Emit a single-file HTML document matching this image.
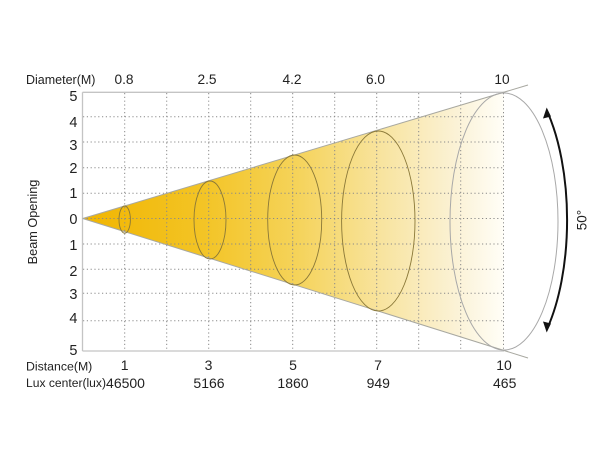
<!DOCTYPE html>
<html><head><meta charset="utf-8"><style>
html,body{margin:0;padding:0;background:#fff;}
svg{display:block;}
text{font-family:"Liberation Sans",Arial,sans-serif;fill:#222;}
</style></head><body>
<svg width="600" height="450" viewBox="0 0 600 450" xmlns="http://www.w3.org/2000/svg">
<defs>
<linearGradient id="g" gradientUnits="userSpaceOnUse" x1="82" y1="0" x2="512" y2="0">
<stop offset="0" stop-color="#F1B500"/>
<stop offset="0.28" stop-color="#F3C425"/>
<stop offset="0.5" stop-color="#F5D35A"/>
<stop offset="0.7" stop-color="#F8E4A0"/>
<stop offset="0.87" stop-color="#FBF2D6"/>
<stop offset="0.97" stop-color="#FFFDF4"/>
<stop offset="1" stop-color="#FFFFFF"/>
</linearGradient>
</defs>
<!-- cone fill -->
<polygon points="82.7,218.5 504,92 504,350" fill="url(#g)"/>
<!-- grid -->
<g stroke="#8a8a8a" stroke-width="1" stroke-dasharray="1.2,2.6" fill="none">
<line x1="124.7" y1="93" x2="124.7" y2="351"/>
<line x1="166.7" y1="93" x2="166.7" y2="351"/>
<line x1="208.7" y1="93" x2="208.7" y2="351"/>
<line x1="250.7" y1="93" x2="250.7" y2="351"/>
<line x1="292.7" y1="93" x2="292.7" y2="351"/>
<line x1="334.7" y1="93" x2="334.7" y2="351"/>
<line x1="376.7" y1="93" x2="376.7" y2="351"/>
<line x1="418.7" y1="93" x2="418.7" y2="351"/>
<line x1="460.7" y1="93" x2="460.7" y2="351"/>
<line x1="503.5" y1="93" x2="503.5" y2="351"/>
<line x1="83" y1="116.7" x2="504" y2="116.7"/>
<line x1="83" y1="142" x2="504" y2="142"/>
<line x1="83" y1="167.7" x2="504" y2="167.7"/>
<line x1="83" y1="193.3" x2="504" y2="193.3"/>
<line x1="83" y1="218.5" x2="504" y2="218.5"/>
<line x1="83" y1="244" x2="504" y2="244"/>
<line x1="83" y1="269.3" x2="504" y2="269.3"/>
<line x1="83" y1="293.3" x2="504" y2="293.3"/>
<line x1="83" y1="320.7" x2="504" y2="320.7"/>
</g>
<!-- borders -->
<g stroke="#c4c4c4" stroke-width="1.3" fill="none">
<line x1="82.5" y1="92.3" x2="504" y2="92.3"/>
<line x1="82.5" y1="351" x2="504" y2="351"/>
<line x1="82.5" y1="92.3" x2="82.5" y2="351"/>
</g>
<!-- cone edges -->
<g stroke="#a8a8a0" stroke-width="1" fill="none">
<line x1="82.7" y1="218.5" x2="528" y2="85"/>
<line x1="82.7" y1="218.5" x2="528" y2="358"/>
</g>
<!-- ellipses -->
<g fill="none" stroke="#8a7838" stroke-width="0.9">
<ellipse cx="124.7" cy="219.6" rx="5.7" ry="13.6"/>
<ellipse cx="210" cy="220" rx="16" ry="39"/>
<ellipse cx="294.7" cy="220" rx="27" ry="65"/>
<ellipse cx="378.3" cy="221" rx="36.7" ry="90"/>
</g>
<ellipse cx="504" cy="221.5" rx="54" ry="128.5" fill="none" stroke="#a8a8a8" stroke-width="1"/>
<!-- arrow -->
<path d="M547.5,112 A64,150 0 0 1 547.5,328" fill="none" stroke="#111" stroke-width="2"/>
<polygon points="546.7,107.5 543,118.5 551,116.5" fill="#111"/>
<polygon points="546.7,332.5 543,321.5 551,323.5" fill="#111"/>
<text x="586.5" y="220" font-size="13.5" text-anchor="middle" transform="rotate(-90 586.5 220)">50°</text>
<!-- y label -->
<text x="37" y="222" font-size="12.7" text-anchor="middle" transform="rotate(-90 37 222)">Beam Opening</text>
<!-- y ticks -->
<g font-size="14.5" text-anchor="end">
<text x="77.5" y="101">5</text>
<text x="77.5" y="127">4</text>
<text x="77.5" y="150">3</text>
<text x="77.5" y="173">2</text>
<text x="77.5" y="198">1</text>
<text x="77.5" y="224">0</text>
<text x="77.5" y="250">1</text>
<text x="77.5" y="276">2</text>
<text x="77.5" y="299">3</text>
<text x="77.5" y="323">4</text>
<text x="77.5" y="355">5</text>
</g>
<!-- top labels -->
<text x="26" y="84" font-size="12.5">Diameter(M)</text>
<g font-size="13.7" text-anchor="middle">
<text x="124" y="84">0.8</text>
<text x="207" y="84">2.5</text>
<text x="292" y="84">4.2</text>
<text x="375.5" y="84">6.0</text>
<text x="502" y="84">10</text>
</g>
<!-- bottom labels -->
<text x="26" y="370.5" font-size="12.3">Distance(M)</text>
<text x="26" y="387" font-size="12.1">Lux center(lux)</text>
<g font-size="14" text-anchor="middle">
<text x="124.7" y="370">1</text>
<text x="208.5" y="370">3</text>
<text x="293" y="370">5</text>
<text x="378" y="370">7</text>
<text x="504" y="370">10</text>
<text x="125.5" y="388">46500</text>
<text x="209" y="388">5166</text>
<text x="293" y="388">1860</text>
<text x="378.3" y="388">949</text>
<text x="504.7" y="388">465</text>
</g>
</svg>
</body></html>
